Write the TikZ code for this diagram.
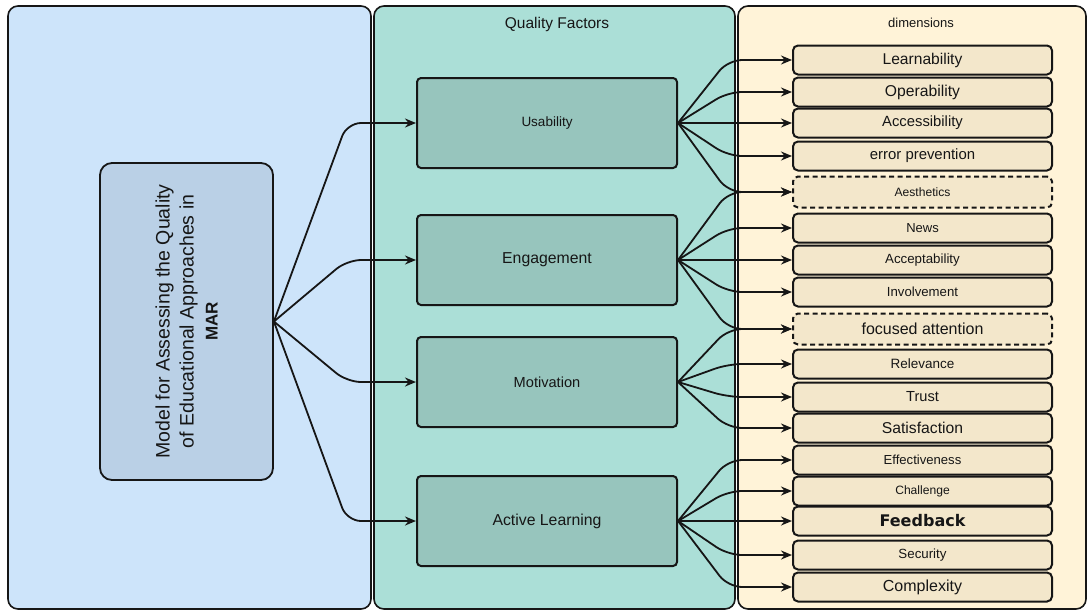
\documentclass[tikz,border=0pt]{standalone}
\usepackage{fontspec}
\setmainfont{Liberation Sans}
\newfontfamily\fbfont{DejaVu Sans}
\usetikzlibrary{arrows.meta}
\definecolor{leftfill}{RGB}{205,228,250}
\definecolor{modelfill}{RGB}{186,208,230}
\definecolor{midfill}{RGB}{171,223,215}
\definecolor{factorfill}{RGB}{151,197,189}
\definecolor{rightfill}{RGB}{255,243,216}
\definecolor{dimfill}{RGB}{243,231,203}
\definecolor{ink}{RGB}{22,22,22}
\newcommand\fsz[1]{\fontsize{#1pt}{#1pt}\selectfont}
\begin{document}
\begin{tikzpicture}[x=1pt,y=-1pt,
  panel/.style={draw=ink, line width=1.6pt, rounded corners=10pt},
  factor/.style={draw=ink, line width=2pt, rounded corners=4pt, fill=factorfill,
    minimum width=260pt, minimum height=90pt, inner sep=0pt, text=ink},
  dimbox/.style={draw=ink, line width=2pt, rounded corners=5pt, fill=dimfill,
    minimum width=259pt, minimum height=29pt, inner sep=0pt, text=ink},
  dimdash/.style={dimbox, dash pattern=on 5pt off 3.5pt, minimum height=31pt},
  conn/.style={draw=ink, line width=1.8pt, rounded corners=14pt,
    -{Stealth[length=11pt,width=9pt]}},
  title/.style={text=ink, inner sep=0pt}
]
\useasboundingbox (0,0) rectangle (1091,614);
\fill[white] (0,0) rectangle (1091,614);

% panels
\path[panel, fill=leftfill] (8,6) rectangle (371,609);
\path[panel, fill=midfill] (374,6) rectangle (735,609);
\path[panel, fill=rightfill] (738,6) rectangle (1086,609);

\node[title] (qf) at (557,24) {\fsz{15.5}Quality Factors};
\node[title] (dm) at (921,23) {\fsz{13}dimensions};

% model box
\node[draw=ink, line width=1.8pt, rounded corners=12pt, fill=modelfill,
  rotate=90, minimum width=317pt, minimum height=173pt, inner sep=0pt,
  align=center, text=ink, font=\fontsize{19.5pt}{24pt}\selectfont]
  (model) at (186.5,321.5)
  {Model for Assessing the Quality\\of Educational Approaches in\\\textbf{\fontsize{17pt}{24pt}\selectfont MAR}};

% factors
\node[factor] (u) at (547,123) {\fsz{13.5}Usability};
\node[factor] (e) at (547,260) {\fsz{15.8}Engagement};
\node[factor] (m) at (547,382) {\fsz{14.6}Motivation};
\node[factor] (a) at (547,521) {\fsz{15.8}Active Learning};

% dimensions
\node[dimbox]  (d1)  at (922.5,60)  {\fsz{15.6}Learnability};
\node[dimbox]  (d2)  at (922.5,92)  {\fsz{15.7}Operability};
\node[dimbox]  (d3)  at (922.5,123) {\fsz{14.8}Accessibility};
\node[dimbox]  (d4)  at (922.5,156) {\fsz{14.9}error prevention};
\node[dimdash] (d5)  at (922.5,192) {\fsz{12.1}Aesthetics};
\node[dimbox]  (d6)  at (922.5,228) {\fsz{13}News};
\node[dimbox]  (d7)  at (922.5,260) {\fsz{13.3}Acceptability};
\node[dimbox]  (d8)  at (922.5,292) {\fsz{13.2}Involvement};
\node[dimdash] (d9)  at (922.5,329) {\fsz{16}focused attention};
\node[dimbox]  (d10) at (922.5,364) {\fsz{13.5}Relevance};
\node[dimbox]  (d11) at (922.5,397) {\fsz{14.6}Trust};
\node[dimbox]  (d12) at (922.5,428) {\fsz{15.7}Satisfaction};
\node[dimbox]  (d13) at (922.5,460) {\fsz{13.1}Effectiveness};
\node[dimbox]  (d14) at (922.5,491) {\fsz{12.1}Challenge};
\node[dimbox]  (d15) at (922.5,521) {\fbfont\bfseries\fsz{16}Feedback};
\node[dimbox]  (d16) at (922.5,555) {\fsz{13.3}Security};
\node[dimbox]  (d17) at (922.5,587) {\fsz{16}Complexity};

% bend columns
\coordinate (lx) at (347,0);
\coordinate (rx) at (728,0);

% left fan
\foreach \f in {u,e,m,a}
  \draw[conn] (model.south) -- (lx |- \f.west) -- (\f.west);

% right fans
\foreach \d in {d1,d2,d3,d4,d5}
  \draw[conn] (u.east) -- (rx |- \d.west) -- (\d.west);
\foreach \d in {d5,d6,d7,d8,d9}
  \draw[conn] (e.east) -- (rx |- \d.west) -- (\d.west);
\foreach \d in {d9,d10,d11,d12}
  \draw[conn] (m.east) -- (rx |- \d.west) -- (\d.west);
\foreach \d in {d13,d14,d15,d16,d17}
  \draw[conn] (a.east) -- (rx |- \d.west) -- (\d.west);
\end{tikzpicture}
\end{document}
